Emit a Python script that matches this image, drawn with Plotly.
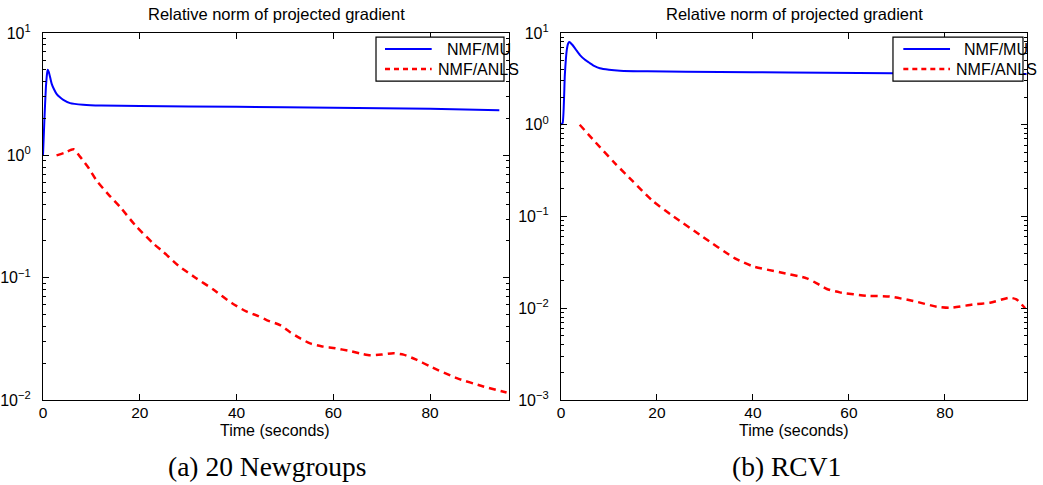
import plotly.graph_objects as go

# (a) 20 Newsgroups: time in seconds vs relative norm of projected gradient
news_mu_t = [0, 0.3, 0.6, 0.85, 1.0, 1.2, 1.5, 1.8, 2.3, 2.8, 3.5, 4.2, 5.6, 8.3, 12, 20, 40,
             60, 80, 94.3]
news_mu_v = [1.0, 2.0, 3.6, 4.7, 5.0, 4.8, 4.3, 3.84, 3.45, 3.18, 2.98, 2.84, 2.67, 2.59, 2.55,
             2.53, 2.49, 2.45, 2.40, 2.34]
news_anls_t = [2.8, 4.5, 6.3, 7.6, 9.5, 11.1, 13.5, 15.9, 19, 22.8, 24.9, 28, 31.5, 35.2, 39, 42,
               44.5, 46.2, 49, 51, 53.1, 55.2, 57.5, 60.4, 63.5, 66, 67.6, 70, 72.4, 74.5, 77,
               80, 85.5, 91, 95.8]
news_anls_v = [1.0, 1.05, 1.12, 0.98, 0.78, 0.62, 0.48, 0.38, 0.27, 0.19, 0.162, 0.125, 0.1,
               0.08, 0.062, 0.053, 0.0485, 0.045, 0.041, 0.036, 0.032, 0.029, 0.0275, 0.0265,
               0.0251, 0.0238, 0.0232, 0.0235, 0.0241, 0.0235, 0.0215, 0.0188, 0.0151, 0.0129,
               0.0115]

# (b) RCV1
rcv_mu_t = [0, 0.35, 0.8, 1.2, 1.5, 1.73, 2.0, 2.4, 3.1, 3.96, 5.0, 6.0, 7.0, 8.1, 10, 12.3, 18,
            26, 40, 55, 69, 85, 97]
rcv_mu_v = [1.0, 1.05, 3.5, 6.5, 7.7, 8.0, 7.8, 7.4, 6.6, 5.75, 5.1, 4.7, 4.35, 4.12, 3.97, 3.88,
            3.82, 3.79, 3.74, 3.69, 3.64, 3.6, 3.58]
rcv_anls_t = [3.9, 7, 11.25, 15, 18.9, 23.5, 29.3, 36.25, 40.1, 45.6, 51.2, 53.3, 55.4, 58.1,
              63.7, 68.5, 73.4, 78.3, 81, 85.9, 89.4, 93.5, 94.9, 96.7]
rcv_anls_v = [1.0, 0.66, 0.38, 0.241, 0.151, 0.0995, 0.0613, 0.035, 0.0285, 0.0247, 0.0212,
              0.0187, 0.0162, 0.0149, 0.0137, 0.0134, 0.012, 0.0104, 0.0101, 0.011, 0.0115,
              0.013, 0.0125, 0.0100]

x_ticks = [0, 20, 40, 60, 80]
news_y_ticks = [10, 1, 0.1, 0.01]
news_y_labels = ["10<sup>1</sup>", "10<sup>0</sup>", "10<sup>\u22121</sup>", "10<sup>\u22122</sup>"]
rcv_y_ticks = [10, 1, 0.1, 0.01, 0.001]
rcv_y_labels = ["10<sup>1</sup>", "10<sup>0</sup>", "10<sup>\u22121</sup>", "10<sup>\u22122</sup>",
                "10<sup>\u22123</sup>"]
series_names = ["NMF/MU", "NMF/ANLS"]
panel_title = "Relative norm of projected gradient"
x_label = "Time (seconds)"
captions = ["(a) 20 Newgroups", "(b) RCV1"]

BLUE = "#0000ff"
RED = "#ff0000"
SANS = "Liberation Sans, Arial, sans-serif"
SERIF = "Liberation Serif, Times New Roman, serif"
DASH = "7px,5px"

W, H = 1043, 485
dom_y = [1 - 400 / H, 1 - 33 / H]
dom_x1 = [43 / W, 509 / W]
dom_x2 = [561 / W, 1027 / W]

fig = go.Figure()

mu_line = dict(color=BLUE, width=2, shape="spline", smoothing=0.5)
anls_line = dict(color=RED, width=2.5, dash=DASH, shape="spline", smoothing=0.6)

fig.add_trace(go.Scatter(x=news_mu_t, y=news_mu_v, mode="lines", name=series_names[0],
                         line=mu_line, xaxis="x", yaxis="y", showlegend=False))
fig.add_trace(go.Scatter(x=news_anls_t, y=news_anls_v, mode="lines", name=series_names[1],
                         line=anls_line, xaxis="x", yaxis="y", showlegend=False))
fig.add_trace(go.Scatter(x=rcv_mu_t, y=rcv_mu_v, mode="lines", name=series_names[0],
                         line=mu_line, xaxis="x2", yaxis="y2", showlegend=False))
fig.add_trace(go.Scatter(x=rcv_anls_t, y=rcv_anls_v, mode="lines", name=series_names[1],
                         line=anls_line, xaxis="x2", yaxis="y2", showlegend=False))

xcommon = dict(tickvals=x_ticks, ticks="inside", ticklen=6, tickcolor="black",
               showline=True, linecolor="black", linewidth=1.2, mirror="ticks",
               showgrid=False, zeroline=False, automargin=False,
               tickfont=dict(family=SANS, size=15.5, color="black"), ticklabelstandoff=-2)
ycommon = dict(type="log", ticks="inside", ticklen=6,
               tickcolor="black", showline=True, linecolor="black", linewidth=1.2,
               mirror="ticks", showgrid=False, zeroline=False, automargin=False,
               minor=dict(ticks="inside", ticklen=3, tickcolor="black", dtick="D1", showgrid=False),
               tickfont=dict(family=SANS, size=16, color="black"), ticklabelstandoff=8)

fig.update_layout(
    width=W, height=H,
    margin=dict(l=0, r=0, t=0, b=0, autoexpand=False),
    paper_bgcolor="white", plot_bgcolor="white",
    showlegend=False,
    xaxis=dict(domain=dom_x1, range=[0, 96.3], anchor="y", **xcommon),
    yaxis=dict(domain=dom_y, range=[-2, 1], anchor="x", tickvals=news_y_ticks,
               ticktext=news_y_labels, **ycommon),
    xaxis2=dict(domain=dom_x2, range=[0, 97.1], anchor="y2", **xcommon),
    yaxis2=dict(domain=dom_y, range=[-3, 1], anchor="x2", tickvals=rcv_y_ticks,
                ticktext=rcv_y_labels, **ycommon),
)

# Hand-drawn legend box in each panel (text is centred and may spill past the frame)
shapes = []
annotations = []
for xs, ys, box in (("x domain", "y domain", (0.7146, 0.9893, 0.7339, 0.8341, 0.9356)),
                    ("x2 domain", "y2 domain", (0.7124, 0.9914, 0.7346, 0.8348, 0.9345))):
    bx0, bx1, lx0, lx1, tx = box
    shapes.append(dict(type="rect", xref=xs, yref=ys, x0=bx0, x1=bx1, y0=0.869, y1=0.989,
                       fillcolor="white", line=dict(color="black", width=1.2), layer="above"))
    shapes.append(dict(type="line", xref=xs, yref=ys, x0=lx0, x1=lx1, y0=0.9564, y1=0.9564,
                       line=dict(color=BLUE, width=2), layer="above"))
    shapes.append(dict(type="line", xref=xs, yref=ys, x0=lx0, x1=lx1, y0=0.9019, y1=0.9019,
                       line=dict(color=RED, width=2.5, dash="5px,4px"), layer="above"))
    for name, yy in zip(series_names, (0.9564, 0.9019)):
        annotations.append(dict(xref=xs, yref=ys, x=tx, y=yy, text=name, showarrow=False,
                                xanchor="center", yanchor="middle",
                                font=dict(family=SANS, size=16, color="black")))

for cx in (276.3 / W, 794.5 / W):
    annotations.append(dict(xref="paper", yref="paper", x=cx, y=1 - 13.5 / H, text=panel_title,
                            showarrow=False, xanchor="center", yanchor="middle",
                            font=dict(family=SANS, size=16.5, color="black")))
for cx in (275 / W, 794 / W):
    annotations.append(dict(xref="paper", yref="paper", x=cx, y=1 - 430 / H, text=x_label,
                            showarrow=False, xanchor="center", yanchor="middle",
                            font=dict(family=SANS, size=16, color="black")))
for cx, cap in zip((267.5 / W, 786 / W), captions):
    annotations.append(dict(xref="paper", yref="paper", x=cx, y=1 - 466.7 / H, text=cap,
                            showarrow=False, xanchor="center", yanchor="middle",
                            font=dict(family=SERIF, size=27.5, color="black")))

fig.update_layout(shapes=shapes, annotations=annotations)

fig.write_html("out.html")
